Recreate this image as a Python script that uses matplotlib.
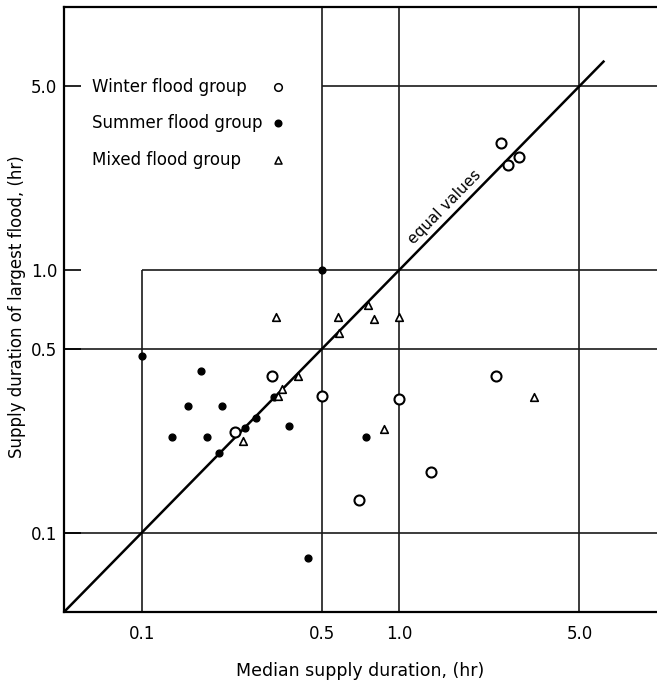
import matplotlib
matplotlib.use("Agg")
import matplotlib.pyplot as plt

# winter flood group (open circles)
winter_x = [2.49, 2.64, 2.92, 0.32, 0.5, 0.231, 1.0, 0.70, 1.33, 2.37]
winter_y = [3.04, 2.51, 2.69, 0.396, 0.331, 0.241, 0.323, 0.133, 0.170, 0.396]

# summer flood group (filled dots)
summer_x = [0.1, 0.170, 0.151, 0.205, 0.1315, 0.180, 0.199, 0.252, 0.278, 0.326,
            0.372, 0.743, 0.444, 0.5]
summer_y = [0.472, 0.413, 0.305, 0.305, 0.232, 0.232, 0.201, 0.25, 0.274, 0.328,
            0.256, 0.232, 0.080, 1.0]

# mixed flood group (open triangles)
mixed_x = [0.333, 0.577, 0.80, 1.0, 0.754, 0.585, 0.404, 0.351, 0.337, 0.247, 0.875, 3.34]
mixed_y = [0.661, 0.661, 0.651, 0.661, 0.738, 0.576, 0.394, 0.353, 0.333, 0.224, 0.249, 0.328]

ticks = [0.1, 0.5, 1.0, 5.0]
tick_labels = ["0.1", "0.5", "1.0", "5.0"]
diag = [0.05, 6.2]
lims = (0.05, 10)

fig = plt.figure(figsize=(6.57, 6.81), dpi=100)
ax = fig.add_axes([0.0974, 0.1013, 0.9026, 0.8884])
ax.set_xscale("log")
ax.set_yscale("log")
ax.set_xlim(lims)
ax.set_ylim(lims)

gc = "#1a1a1a"
# grid, with the upper left cell kept clear for the key
ax.vlines(0.1, lims[0], 1.0, color=gc, lw=1.2, zorder=1)
ax.vlines([0.5, 1.0, 5.0], lims[0], lims[1], color=gc, lw=1.2, zorder=1)
ax.hlines([0.1, 0.5], lims[0], lims[1], color=gc, lw=1.2, zorder=1)
ax.hlines(1.0, 0.1, lims[1], color=gc, lw=1.2, zorder=1)
ax.hlines(5.0, 0.5, lims[1], color=gc, lw=1.2, zorder=1)

# line of equal values
ax.plot(diag, diag, color="black", lw=1.8, zorder=2)
ax.annotate("equal values", xy=(1.62, 1.62), xytext=(-2, 2), textcoords="offset points",
            rotation=45.5, rotation_mode="anchor", ha="center", va="bottom",
            fontsize=11)

ax.scatter(winter_x, winter_y, s=52, facecolors="white", edgecolors="black",
           linewidths=1.5, zorder=3)
ax.scatter(summer_x, summer_y, s=24, color="black", zorder=3)
ax.scatter(mixed_x, mixed_y, s=30, marker="^", facecolors="white", edgecolors="black",
           linewidths=1.2, zorder=3)

# key
key = [("Winter flood group", "o", "white", 30), ("Summer flood group", "o", "black", 22),
       ("Mixed flood group", "^", "white", 26)]
for i, (lab, m, fc, sz) in enumerate(key):
    yy = 0.868 - i * 0.0605
    ax.text(0.047, yy, lab, transform=ax.transAxes, fontsize=12, va="center")
    ax.scatter([0.361], [yy], transform=ax.transAxes, marker=m, s=sz, facecolors=fc,
               edgecolors="black", linewidths=1.1, zorder=3)

ax.set_xticks(ticks)
ax.set_xticklabels(tick_labels)
ax.set_yticks(ticks)
ax.set_yticklabels(tick_labels)
ax.minorticks_off()
ax.tick_params(axis="x", length=0, pad=9, labelsize=12)
ax.tick_params(axis="y", direction="in", length=12, width=1.2, pad=5, labelsize=12)

for s in ["left", "bottom", "top"]:
    ax.spines[s].set_linewidth(1.6)
ax.spines["right"].set_visible(False)

ax.set_xlabel("Median supply duration, (hr)", fontsize=12.5, labelpad=14)
ax.set_ylabel("Supply duration of largest flood, (hr)", fontsize=12)
ax.yaxis.set_label_coords(-0.064, 0.505)

fig.savefig("out.png", dpi=100)
